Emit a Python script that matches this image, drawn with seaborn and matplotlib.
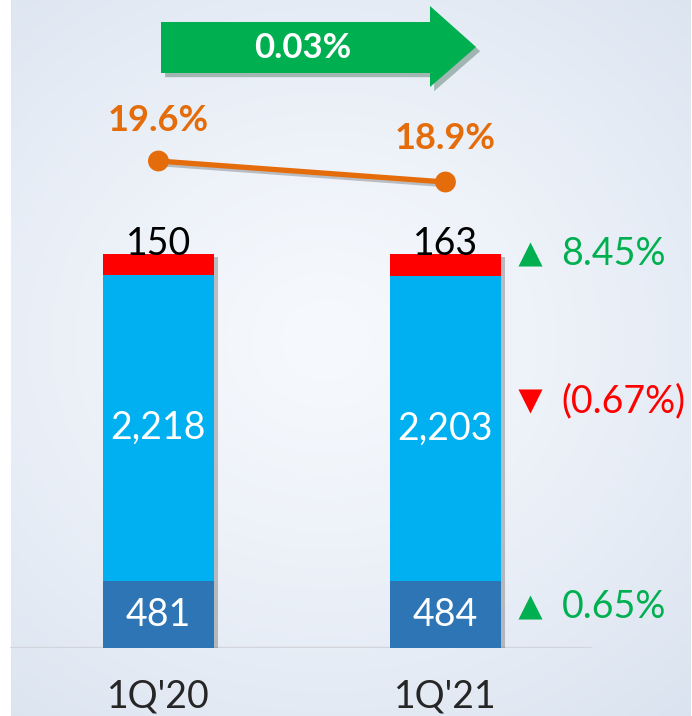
import numpy as np
import matplotlib
matplotlib.use("Agg")
import matplotlib.pyplot as plt
import matplotlib.patheffects as pe
from matplotlib.patches import Polygon
import seaborn as sns
import pandas as pd

# ---------------- data ----------------
periods = ["1Q'20", "1Q'21"]
seg_bottom = [481, 484]
seg_middle = [2218, 2203]
seg_top = [150, 163]
ratio = [19.6, 18.9]
ratio_labels = ["19.6%", "18.9%"]
growth_labels = ["8.45%", "(0.67%)", "0.65%"]
growth_up = [True, False, True]
arrow_label = "0.03%"

C_DARK = "#2E75B6"
C_LIGHT = "#00B0F0"
C_RED = "#FF0000"
C_GREEN = "#00B050"
C_ORANGE = "#E46C0A"

sns.set_theme(style="white")
plt.rcParams['font.family'] = ['Lato', 'DejaVu Sans']
FW = 'normal'

W, H = 692, 716
fig = plt.figure(figsize=(W / 100, H / 100), dpi=100)
fig.patch.set_facecolor('white')

# ---------------- background gradient ----------------
bg = fig.add_axes([0, 0, 1, 1], zorder=0)
yy, xx = np.mgrid[0:H, 0:W]
r = np.sqrt(((xx - 320) / 560.0) ** 2 + ((yy - 340) / 500.0) ** 2)
r = np.clip(r, 0, 1) ** 1.3
c0 = np.array([0.965, 0.976, 0.992])
c1 = np.array([0.855, 0.89, 0.94])
img = c0[None, None, :] * (1 - r[..., None]) + c1[None, None, :] * r[..., None]
bg.imshow(img, extent=(11, W - 1, H, 0), aspect='auto', interpolation='bilinear')
bg.set_xlim(0, W)
bg.set_ylim(H, 0)
bg.axis('off')

# ---------------- bars ----------------
ax = fig.add_axes([0, 68 / H, 1, 648 / H], zorder=1)
ax.patch.set_alpha(0)

df = pd.DataFrame({'period': periods, 'b': seg_bottom, 'm': seg_middle, 't': seg_top})
df['cum_m'] = df['b'] + df['m']
df['cum_t'] = df['cum_m'] + df['t']

bw = 0.387
shadow = [pe.SimplePatchShadow(offset=(3, -2), shadow_rgbFace='#555555', alpha=0.35), pe.Normal()]
sns.barplot(data=df, x='period', y='cum_t', color=C_RED, saturation=1, width=bw,
            ax=ax, linewidth=0, path_effects=shadow, zorder=2)
sns.barplot(data=df, x='period', y='cum_m', color=C_LIGHT, saturation=1, width=bw,
            ax=ax, linewidth=0, zorder=3)
sns.barplot(data=df, x='period', y='b', color=C_DARK, saturation=1, width=bw,
            ax=ax, linewidth=0, zorder=4)

ax.set_xlim(-0.552, 1.859)
ax.set_ylim(0, 4685)
ax.set_yticks([])
ax.set_xlabel('')
ax.set_ylabel('')
for s in ax.spines.values():
    s.set_visible(False)
ax.set_xticks([0, 1])
ax.set_xticklabels(periods, fontsize=27, color='#262626', fontweight=FW)
ax.tick_params(axis='x', length=0, pad=22)

ax.axhline(0, xmin=11 / W, xmax=590 / W, color='#D2D6DC', lw=2.5, zorder=1.5)

for i in range(len(periods)):
    b, m, t = seg_bottom[i], seg_middle[i], seg_top[i]
    ax.text(i, b / 2, f"{b:,}", color='white', ha='center', va='center',
            fontsize=27, fontweight=FW, zorder=6)
    ax.text(i, b + m / 2, f"{m:,}", color='white', ha='center', va='center',
            fontsize=27, fontweight=FW, zorder=6)
    ax.text(i, b + m + t - 10, f"{t:,}", color='black', ha='center', va='baseline',
            fontsize=27, fontweight=FW, zorder=6)

# growth annotations beside second bar
j = 1
ann_y = [df['cum_t'][j], seg_bottom[j] + seg_middle[j] * 0.59, seg_bottom[j] * 0.61]
for lab, up, y in zip(growth_labels, growth_up, ann_y):
    col = C_GREEN if up else C_RED
    ax.scatter([1.294], [y], marker='^' if up else 'v', s=300, color=col,
               linewidths=0, zorder=6, clip_on=False)
    ax.text(1.404, y, lab, color=col, ha='left', va='center', fontsize=27,
            fontweight=FW, zorder=6)

# ---------------- ratio line ----------------
ax2 = ax.twinx()
ax2.set_ylim(3.367, 24.967)
ax2.set_yticks([])
for s in ax2.spines.values():
    s.set_visible(False)
sns.lineplot(x=[0, 1], y=ratio, ax=ax2, color=C_ORANGE, lw=3.8, marker='o',
             markersize=15, markeredgewidth=0,
             path_effects=[pe.SimpleLineShadow(offset=(2, -2), alpha=0.25), pe.Normal()])
offs = [29, 31]
for i, (v, lab) in enumerate(zip(ratio, ratio_labels)):
    ax2.annotate(lab, (i, v), xytext=(0, offs[i]), textcoords='offset points',
                 ha='center', va='center', color=C_ORANGE, fontsize=26, fontweight='bold')
ax2.set_xlim(-0.552, 1.859)

# ---------------- top arrow ----------------
fg = fig.add_axes([0, 0, 1, 1], zorder=3)
fg.patch.set_alpha(0)
fg.set_xlim(0, W)
fg.set_ylim(H, 0)
fg.axis('off')
arrow = Polygon([(161, 22), (430, 22), (430, 6), (476, 47), (430, 87), (430, 73), (161, 73)],
                closed=True, facecolor=C_GREEN, edgecolor='none',
                path_effects=[pe.SimplePatchShadow(offset=(3, -3), alpha=0.3), pe.Normal()])
fg.add_patch(arrow)
fg.text(303, 48, arrow_label, color='white', ha='center', va='center',
        fontsize=25, fontweight='bold')

fig.savefig('out.png', dpi=100)
